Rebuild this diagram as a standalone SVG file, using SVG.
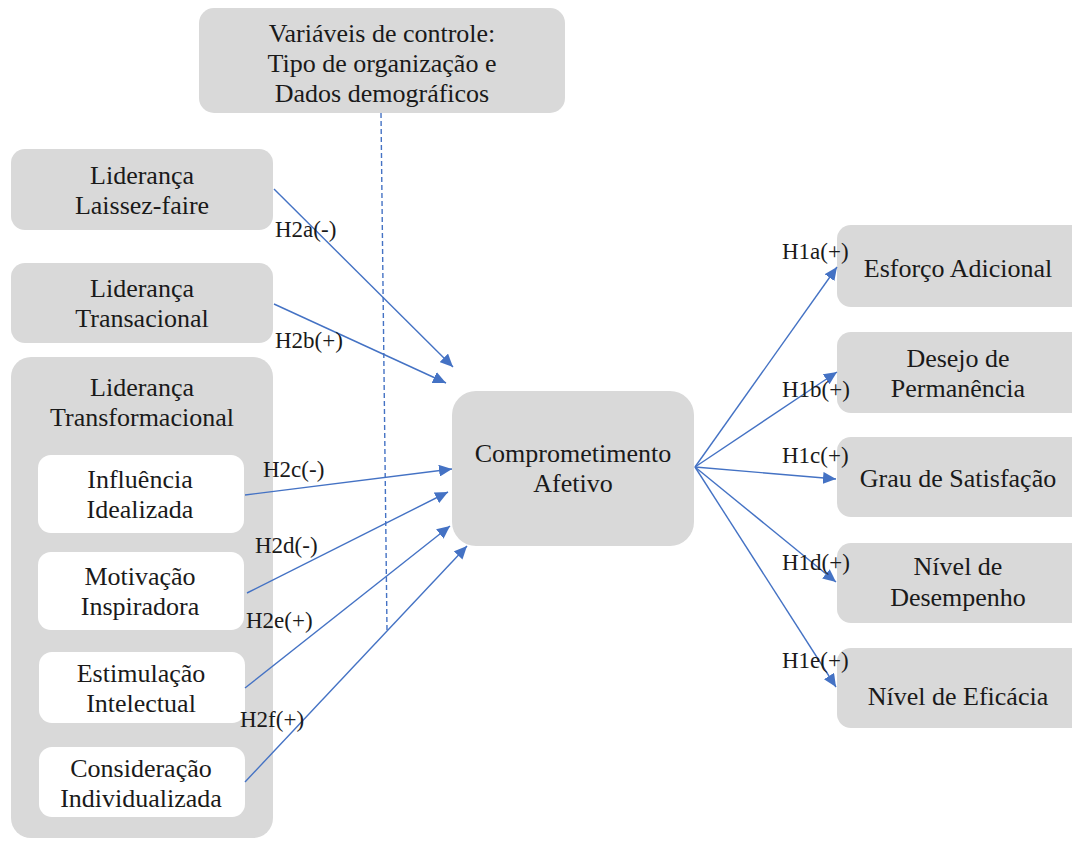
<svg xmlns="http://www.w3.org/2000/svg" width="1072" height="841" viewBox="0 0 1072 841">
<defs>
<style>
.box{fill:#d9d9d9}
.inner{fill:#ffffff}
text{fill:#1a1a1a}
.t{font-size:26px;text-anchor:middle}
.lbl{font-size:23px}
.conn{stroke:#4472c4;stroke-width:1.4;fill:none;marker-end:url(#ah)}
.dash{stroke:#4472c4;stroke-width:1.4;stroke-dasharray:5 3;fill:none}
</style>
<marker id="ah" markerUnits="userSpaceOnUse" markerWidth="14" markerHeight="12" refX="13" refY="6" orient="auto">
<path d="M0,0 L13,6 L0,12 z" fill="#4472c4"/>
</marker>
</defs>
<rect width="1072" height="841" fill="#ffffff"/>
<g font-family="Liberation Serif, Tinos, DejaVu Serif, Noto Serif, serif">
<g id="controle">
<rect class="box" x="199" y="8" width="366" height="105" rx="15"/>
<text class="t" x="382" y="42">Variáveis de controle:</text>
<text class="t" x="382" y="72">Tipo de organização e</text>
<text class="t" x="382" y="102">Dados demográficos</text>
</g>
<g id="laissez">
<rect class="box" x="11" y="149" width="262" height="81" rx="14"/>
<text class="t" x="142" y="184">Liderança</text>
<text class="t" x="142" y="214">Laissez-faire</text>
</g>
<g id="transacional">
<rect class="box" x="11" y="263" width="262" height="80" rx="14"/>
<text class="t" x="142" y="297">Liderança</text>
<text class="t" x="142" y="327">Transacional</text>
</g>
<g id="transformacional">
<rect class="box" x="11" y="357" width="262" height="481" rx="20"/>
<text class="t" x="142" y="396">Liderança</text>
<text class="t" x="142" y="426">Transformacional</text>
</g>
<g id="influencia">
<rect class="inner" x="38" y="455" width="206" height="78" rx="13"/>
<text class="t" x="140" y="488">Influência</text>
<text class="t" x="140" y="518">Idealizada</text>
</g>
<g id="motivacao">
<rect class="inner" x="38" y="552" width="206" height="78" rx="13"/>
<text class="t" x="140" y="585">Motivação</text>
<text class="t" x="140" y="615">Inspiradora</text>
</g>
<g id="estimulacao">
<rect class="inner" x="39" y="652" width="206" height="71" rx="13"/>
<text class="t" x="141" y="682">Estimulação</text>
<text class="t" x="141" y="712">Intelectual</text>
</g>
<g id="consideracao">
<rect class="inner" x="39" y="747" width="206" height="70" rx="13"/>
<text class="t" x="141" y="777">Consideração</text>
<text class="t" x="141" y="807">Individualizada</text>
</g>
<g id="comprometimento">
<rect class="box" x="452" y="391" width="242" height="155" rx="24"/>
<text class="t" x="573" y="462">Comprometimento</text>
<text class="t" x="573" y="492">Afetivo</text>
</g>
<g id="esforco">
<rect class="box" x="837" y="225" width="260" height="82" rx="14"/>
<text class="t" x="958" y="277">Esforço Adicional</text>
</g>
<g id="desejo">
<rect class="box" x="837" y="332" width="260" height="81" rx="14"/>
<text class="t" x="958" y="367">Desejo de</text>
<text class="t" x="958" y="397">Permanência</text>
</g>
<g id="satisfacao">
<rect class="box" x="837" y="437" width="260" height="80" rx="14"/>
<text class="t" x="958" y="487">Grau de Satisfação</text>
</g>
<g id="desempenho">
<rect class="box" x="837" y="543" width="260" height="80" rx="14"/>
<text class="t" x="958" y="575">Nível de</text>
<text class="t" x="958" y="606">Desempenho</text>
</g>
<g id="eficacia">
<rect class="box" x="837" y="648" width="260" height="80" rx="14"/>
<text class="t" x="958" y="705">Nível de Eficácia</text>
</g>
<g id="connectors">
<line class="dash" x1="381" y1="113" x2="387" y2="630"/>
<line class="conn" x1="274" y1="189" x2="453" y2="367"/>
<line class="conn" x1="274" y1="304" x2="446" y2="383"/>
<line class="conn" x1="245" y1="495" x2="452" y2="469"/>
<line class="conn" x1="247" y1="593" x2="448" y2="492"/>
<line class="conn" x1="245" y1="688" x2="450" y2="526"/>
<line class="conn" x1="245" y1="782" x2="467" y2="546"/>
<line class="conn" x1="695" y1="467" x2="837" y2="267"/>
<line class="conn" x1="695" y1="467" x2="837" y2="372"/>
<line class="conn" x1="695" y1="467" x2="836" y2="479"/>
<line class="conn" x1="695" y1="467" x2="836" y2="582"/>
<line class="conn" x1="695" y1="467" x2="836" y2="687"/>
<text class="lbl" x="275" y="237">H2a(-)</text>
<text class="lbl" x="275" y="348">H2b(+)</text>
<text class="lbl" x="263" y="477">H2c(-)</text>
<text class="lbl" x="255" y="553">H2d(-)</text>
<text class="lbl" x="246" y="628">H2e(+)</text>
<text class="lbl" x="240" y="727">H2f(+)</text>
<text class="lbl" x="782" y="259">H1a(+)</text>
<text class="lbl" x="782" y="397">H1b(+)</text>
<text class="lbl" x="782" y="463">H1c(+)</text>
<text class="lbl" x="782" y="570">H1d(+)</text>
<text class="lbl" x="782" y="668">H1e(+)</text>
</g>
</g>
</svg>
